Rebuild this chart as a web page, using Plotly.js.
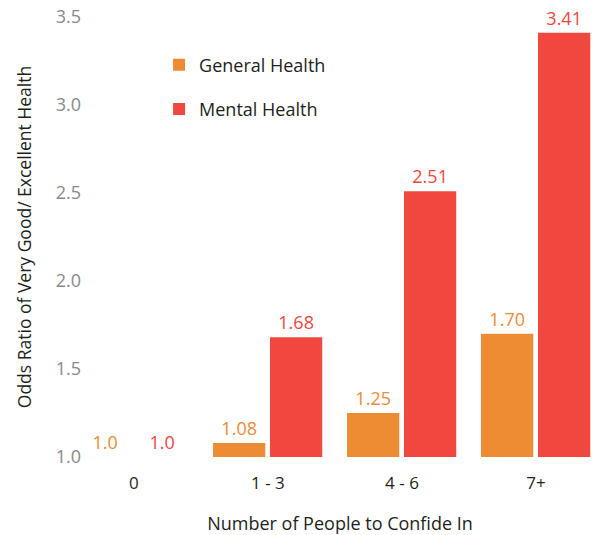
<!DOCTYPE html>
<html>
<head>
<meta charset="utf-8">
<script src="https://cdn.plot.ly/plotly-3.0.1.min.js"></script>
<style>html,body{margin:0;padding:0;background:#fff;}#chart{width:592px;height:535px;}</style>
</head>
<body>
<div id="chart"></div>
<script>
var categories = ['0', '1 - 3', '4 - 6', '7+'];
var generalHealth = [1.0, 1.08, 1.25, 1.70];
var mentalHealth = [1.0, 1.68, 2.51, 3.41];
var generalLabels = ['1.0', '1.08', '1.25', '1.70'];
var mentalLabels = ['1.0', '1.68', '2.51', '3.41'];
var yTicks = [1.0, 1.5, 2.0, 2.5, 3.0, 3.5];
var yTickText = ['1.0', '1.5', '2.0', '2.5', '3.0', '3.5'];
var baseline = 1.0;

var orange = '#EE8C34';
var red = '#F0473F';
var FONT = 'Open Sans, sans-serif';

function barTrace(name, vals, labels, color, offset) {
  return {
    type: 'bar',
    name: name,
    x: categories,
    y: vals.map(function (v) { return v - baseline; }),
    base: baseline,
    width: 0.39,
    offset: offset,
    marker: { color: color },
    text: labels,
    textposition: 'outside',
    cliponaxis: false,
    textfont: { family: FONT, size: 18, color: color },
    outsidetextfont: { family: FONT, size: 18, color: color },
    hoverinfo: 'skip',
    legendgroup: name
  };
}

var data = [
  barTrace('General Health', generalHealth, generalLabels, orange, -0.41),
  barTrace('Mental Health', mentalHealth, mentalLabels, red, 0.015)
];

var layout = {
  width: 592,
  height: 535,
  margin: { l: 88, r: 0, t: 17, b: 78 },
  paper_bgcolor: '#fff',
  plot_bgcolor: '#fff',
  barmode: 'overlay',
  font: { family: FONT, color: '#231F20' },
  showlegend: true,
  legend: {
    x: 0.141, y: 0.933, xanchor: 'left', yanchor: 'top',
    font: { family: FONT, size: 18, color: '#231F20' },
    traceorder: 'grouped',
    tracegroupgap: 18,
    bgcolor: 'rgba(0,0,0,0)'
  },
  xaxis: {
    type: 'category',
    range: [-0.343, 3.418],
    showgrid: false,
    zeroline: false,
    showline: false,
    ticks: '',
    ticklabelstandoff: 14,
    tickfont: { family: FONT, size: 17, color: '#231F20' },
    title: { text: 'Number of People to Confide In', font: { family: FONT, size: 18, color: '#231F20' }, standoff: 28 },
    automargin: false,
    fixedrange: true
  },
  yaxis: {
    range: [1.0, 3.5],
    tickvals: yTicks,
    ticktext: yTickText,
    showgrid: false,
    zeroline: false,
    showline: false,
    ticks: '',
    ticklabelstandoff: 6,
    tickfont: { family: FONT, size: 18, color: '#8A8A8A' },
    title: { text: 'Odds Ratio of Very Good/ Excellent Health', font: { family: FONT, size: 17.5, color: '#231F20' }, standoff: 19 },
    automargin: false,
    fixedrange: true
  }
};

Plotly.newPlot('chart', data, layout, { displayModeBar: false, staticPlot: true });
</script>
</body>
</html>
